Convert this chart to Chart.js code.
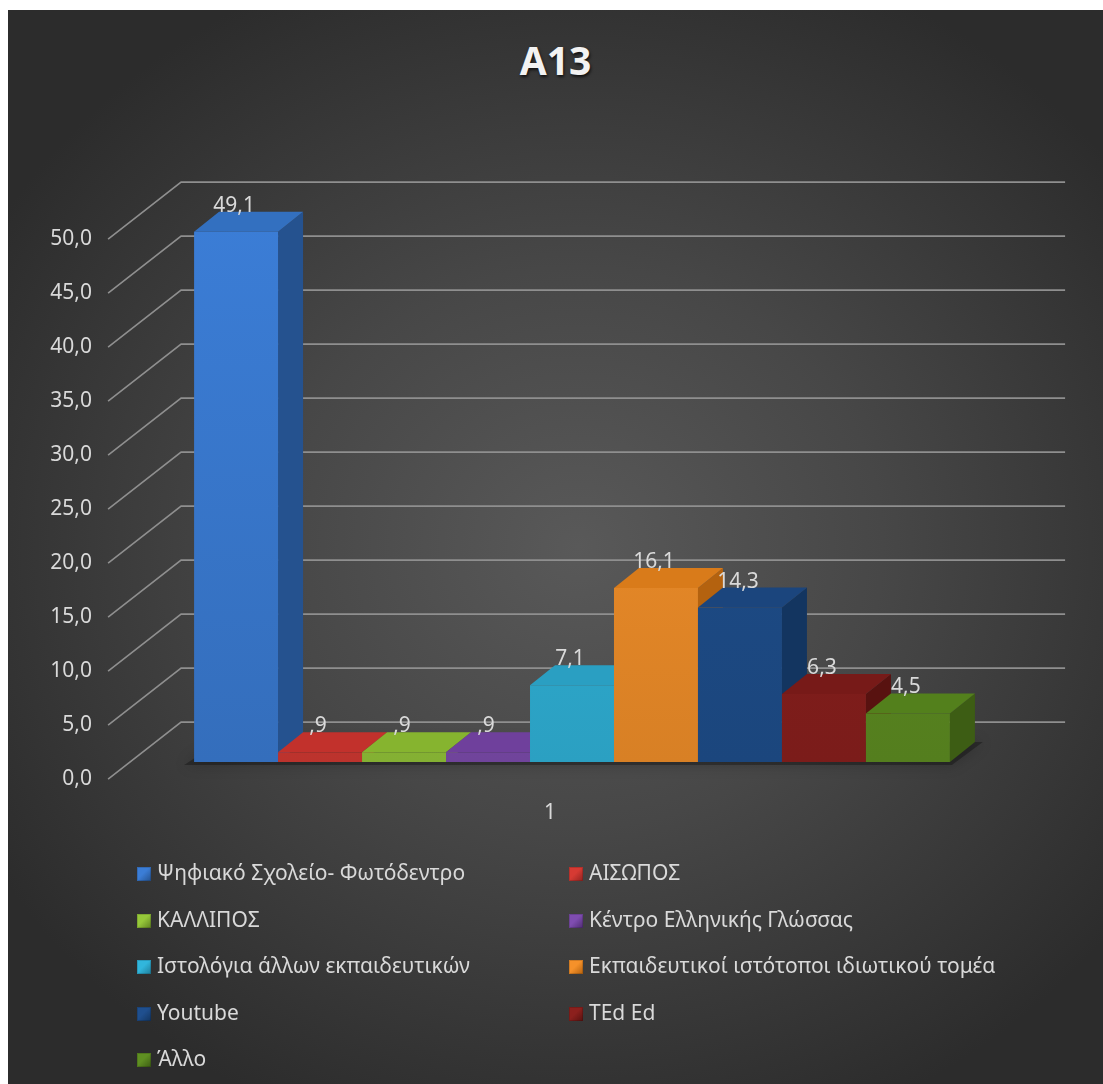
<!DOCTYPE html>
<html>
<head>
<meta charset="utf-8">
<script src="https://cdn.jsdelivr.net/npm/chart.js@4.4.0/dist/chart.umd.min.js"></script>
<style>
html, body { margin: 0; padding: 0; background: #fff; }
body { width: 1103px; height: 1084px; position: relative; overflow: hidden; font-family: "Noto Sans", "Open Sans", sans-serif; }
#panel {
    position: absolute; left: 8px; top: 10px; width: 1095px; height: 1074px;
    background: radial-gradient(ellipse 62% 58% at 52% 50%, #595959 0%, #474747 45%, #2c2c2c 100%);
}
#title {
    position: absolute; left: 8px; width: 1095px; top: 36px; line-height: 48px;
    text-align: center; color: #f2f2f2; font-weight: bold; font-size: 39px;
    text-shadow: 1px 2px 3px rgba(0, 0, 0, 0.7);
}
#chartBox { position: absolute; left: 0; top: 0; width: 1103px; height: 1084px; }
.legend-item {
    position: absolute; height: 26px; line-height: 26px; color: #d9d9d9;
    font-size: 21px; white-space: nowrap; transform: translateY(-50%);
}
.legend-item span.box {
    display: inline-block; width: 14px; height: 14px; margin-right: 6px; vertical-align: -1px;
    box-shadow: inset 0 0 0 1px rgba(0,0,0,0.15);
}
</style>
</head>
<body>
<div id="panel"></div>
<div id="title">A13</div>
<div id="chartBox"><canvas id="chart"></canvas></div>
<div id="legend"></div>

<script>
// Δεδομένα του γραφήματος
const categories = ['1'];
const seriesNames = [
    'Ψηφιακό Σχολείο- Φωτόδεντρο',
    'ΑΙΣΩΠΟΣ',
    'ΚΑΛΛΙΠΟΣ',
    'Κέντρο Ελληνικής Γλώσσας',
    'Ιστολόγια άλλων εκπαιδευτικών',
    'Εκπαιδευτικοί ιστότοποι ιδιωτικού τομέα',
    'Youtube',
    'TEd Ed',
    'Άλλο'
];
const seriesValues = [49.1, 0.9, 0.9, 0.9, 7.1, 16.1, 14.3, 6.3, 4.5];
const yTickLabels = ['0,0', '5,0', '10,0', '15,0', '20,0', '25,0', '30,0', '35,0', '40,0', '45,0', '50,0'];

// Χρώματα: μπροστά, πάνω, πλάι
const frontColors = ['#3b7dd6', '#d63a33', '#96c83a', '#7f4db0', '#31b6dc', '#f5912a', '#1f4f8e', '#8c201d', '#5f8f22'];
const topColors   = ['#3370c0', '#c2312c', '#86b42f', '#6f409c', '#2a9fc2', '#d97b1a', '#1b457d', '#771a18', '#53801c'];
const sideColors  = ['#25528f', '#922421', '#5f8220', '#4f2c72', '#1f7d99', '#b4620f', '#133560', '#581210', '#3d5d14'];

const textColor = '#d9d9d9';
const gridColor = '#8f8f8f';
const fontFamily = '"Noto Sans", "Open Sans", sans-serif';

// Γεωμετρία 3Δ
const depthDx = 73, depthDy = -57, frontFrac = 0.3;
const barDx = 25, barDy = -20;

function formatValue(v) {
    let s = v.toFixed(1).replace('.', ',');
    if (s.startsWith('0,')) s = s.slice(1);
    return s;
}

function shade(hex, amt) {
    const n = parseInt(hex.slice(1), 16);
    let r = (n >> 16) & 255, g = (n >> 8) & 255, b = n & 255;
    r = Math.round(r * (1 + amt)); g = Math.round(g * (1 + amt)); b = Math.round(b * (1 + amt));
    return `rgb(${r},${g},${b})`;
}

// Υπόμνημα σε δύο στήλες
const legendEl = document.getElementById('legend');
seriesNames.forEach((name, i) => {
    const item = document.createElement('div');
    item.className = 'legend-item';
    item.style.left = (i % 2 === 0 ? 137 : 569) + 'px';
    item.style.top = (872 + Math.floor(i / 2) * 46.5) + 'px';
    const box = document.createElement('span');
    box.className = 'box';
    box.style.background = `linear-gradient(135deg, ${frontColors[i]} 0%, ${frontColors[i]} 45%, ${sideColors[i]} 100%)`;
    item.appendChild(box);
    item.appendChild(document.createTextNode(name));
    legendEl.appendChild(item);
});

// Plugin για το 3Δ πλέγμα, τις όψεις των ράβδων και τις ετικέτες τιμών
const bars3d = {
    id: 'bars3d',
    beforeDatasetsDraw(chart) {
        const ctx = chart.ctx;
        const area = chart.chartArea;
        const yScale = chart.scales.y;

        // πλέγμα με προοπτική
        const fx = -frontFrac * depthDx, fy = -frontFrac * depthDy;
        const bx = (1 - frontFrac) * depthDx, by = (1 - frontFrac) * depthDy;
        ctx.save();
        ctx.strokeStyle = gridColor;
        ctx.lineWidth = 1.6;
        yScale.ticks.forEach(t => {
            const y = yScale.getPixelForValue(t.value);
            ctx.beginPath();
            ctx.moveTo(area.left + fx, y + fy);
            ctx.lineTo(area.left + bx, y + by);
            ctx.lineTo(area.right + bx, y + by);
            ctx.stroke();
        });
        ctx.restore();

        const all = [];
        chart.data.datasets.forEach((ds, i) => {
            chart.getDatasetMeta(i).data.forEach(el => all.push({ el, i }));
        });
        all.sort((a, b) => a.el.x - b.el.x);

        // σκιά δαπέδου
        if (all.length) {
            const first = all[0].el, last = all[all.length - 1].el;
            const l = first.x - first.width / 2, r = last.x + last.width / 2, b = first.base;
            ctx.save();
            ctx.fillStyle = 'rgba(0,0,0,0.3)';
            ctx.shadowColor = 'rgba(0,0,0,0.7)';
            ctx.shadowBlur = 14;
            ctx.beginPath();
            ctx.moveTo(l - 10, b + 3);
            ctx.lineTo(r + 2, b + 3);
            ctx.lineTo(r + barDx + 8, b + barDy);
            ctx.lineTo(l + barDx, b + barDy);
            ctx.closePath();
            ctx.fill();
            ctx.restore();
        }

        // ράβδοι από αριστερά προς τα δεξιά
        all.forEach(({ el, i }) => {
            const l = el.x - el.width / 2, r = el.x + el.width / 2;
            const top = el.y, base = el.base;
            ctx.save();
            ctx.fillStyle = sideColors[i];
            ctx.beginPath();
            ctx.moveTo(r, top);
            ctx.lineTo(r + barDx, top + barDy);
            ctx.lineTo(r + barDx, base + barDy);
            ctx.lineTo(r, base);
            ctx.closePath();
            ctx.fill();
            ctx.fillStyle = topColors[i];
            ctx.beginPath();
            ctx.moveTo(l, top);
            ctx.lineTo(r, top);
            ctx.lineTo(r + barDx, top + barDy);
            ctx.lineTo(l + barDx, top + barDy);
            ctx.closePath();
            ctx.fill();
            ctx.restore();
            el.draw(ctx, area);
        });

        // ετικέτες τιμών
        ctx.save();
        ctx.fillStyle = textColor;
        ctx.font = '21px ' + fontFamily;
        ctx.textAlign = 'center';
        ctx.textBaseline = 'middle';
        all.forEach(({ el, i }) => {
            ctx.fillText(formatValue(seriesValues[i]), el.x - 2, el.y - 26);
        });
        ctx.restore();
        return false;
    }
};

const datasets = seriesNames.map((name, i) => ({
    label: name,
    data: [seriesValues[i]],
    backgroundColor: (c) => {
        const a = c.chart.chartArea;
        if (!a) return frontColors[i];
        const g = c.chart.ctx.createLinearGradient(0, a.top, 0, a.bottom);
        g.addColorStop(0, frontColors[i]);
        g.addColorStop(1, shade(frontColors[i], -0.12));
        return g;
    },
    borderWidth: 0,
    categoryPercentage: 0.855,
    barPercentage: 1.0
}));

const chart = new Chart(document.getElementById('chart').getContext('2d'), {
    type: 'bar',
    data: { labels: categories, datasets },
    options: {
        responsive: true,
        maintainAspectRatio: false,
        animation: false,
        layout: { padding: { left: 0, right: 89, top: 222, bottom: 242 } },
        plugins: {
            legend: { display: false },
            title: { display: false },
            tooltip: { enabled: false }
        },
        scales: {
            x: {
                grid: { display: false, drawTicks: false },
                border: { display: false },
                ticks: {
                    color: textColor,
                    font: { family: fontFamily, size: 21 },
                    padding: 38,
                    labelOffset: -22,
                    autoSkip: false,
                    maxRotation: 0,
                    minRotation: 0
                },
                afterFit(s) { s.height = 80; }
            },
            y: {
                min: 0,
                max: 50,
                grid: { display: false, drawTicks: false },
                border: { display: false },
                ticks: {
                    stepSize: 5,
                    color: textColor,
                    font: { family: fontFamily, size: 21 },
                    padding: 38,
                    labelOffset: 17,
                    callback: (v, idx) => yTickLabels[idx]
                },
                afterFit(s) { s.width = 130; }
            }
        }
    },
    plugins: [bars3d]
});
</script>
</body>
</html>
